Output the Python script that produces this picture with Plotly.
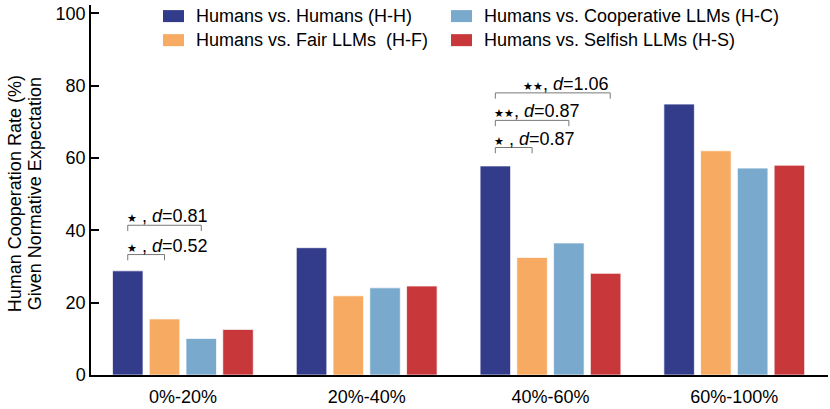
import plotly.graph_objects as go

categories = ['0%-20%', '20%-40%', '40%-60%', '60%-100%']
series_names = ['Humans vs. Humans (H-H)', 'Humans vs. Fair LLMs  (H-F)',
                'Humans vs. Cooperative LLMs (H-C)', 'Humans vs. Selfish LLMs (H-S)']
colors = ['#333b8b', '#f6aa62', '#79a9cc', '#c8373a']

hh = [28.8, 35.2, 57.8, 74.9]
hf = [15.5, 21.9, 32.5, 62.0]
hc = [10.1, 24.1, 36.5, 57.2]
hs = [12.6, 24.6, 28.1, 58.0]
values = [hh, hf, hc, hs]

# significance brackets: (group, compared series, stars, effect size, bracket height)
sig = [
    (0, 1, 1, '0.52', 33.3),
    (0, 2, 1, '0.81', 41.4),
    (2, 1, 1, '0.87', 62.9),
    (2, 2, 2, '0.87', 70.4),
    (2, 3, 2, '1.06', 78.0),
]

font = 'Liberation Sans, Arial, sans-serif'
fig = go.Figure()
for name, vals, c in zip(series_names, values, colors):
    fig.add_trace(go.Bar(x=categories, y=vals, name=name, marker_color=c,
                         marker_line=dict(color='rgba(255,255,255,0.7)', width=1),
                         showlegend=False))

offs = [-0.3, -0.1, 0.1, 0.3]
shapes = []
annotations = []
star = '<span style="font-size:11px">★</span>'
for g, s, n, d, h in sig:
    x0 = g + offs[0]
    x1 = g + offs[s] + (0.025 if s == 3 else 0)
    shapes.append(dict(type='path', xref='x', yref='y',
                       path=f'M {x0},{h-1.6} L {x0},{h} L {x1},{h} L {x1},{h-1.6}',
                       line=dict(color='#777777', width=1)))
    label = star * n + (' , ' if n == 1 else ', ') + '<i>d</i>=' + d
    annotations.append(dict(x=x0 if s < 3 else x1, y=h, xref='x', yref='y',
                            xanchor='left' if s < 3 else 'right', yanchor='bottom',
                            text=label, showarrow=False, xshift=-3 if s < 3 else 1, yshift=-3,
                            font=dict(size=18, color='black')))

# manual legend
leg_pos = [(0.0977, 0.970), (0.0977, 0.905), (0.4885, 0.970), (0.4885, 0.905)]
for (lx, ly), name, c in zip(leg_pos, series_names, colors):
    shapes.append(dict(type='rect', xref='paper', yref='paper', xsizemode='pixel',
                       ysizemode='pixel', xanchor=lx, yanchor=ly,
                       x0=0, x1=21, y0=-6, y1=6, fillcolor=c, line=dict(width=0)))
    annotations.append(dict(x=lx, y=ly, xref='paper', yref='paper', xanchor='left',
                            yanchor='middle', xshift=31, text=name, showarrow=False,
                            font=dict(size=18, color='black')))

# y-axis title, two lines
for txt, xp in [('Human Cooperation Rate (%)', -0.1038), ('Given Normative Expectation', -0.0767)]:
    annotations.append(dict(x=xp, y=0.49, xref='paper', yref='paper', textangle=-90,
                            xanchor='center', yanchor='middle', showarrow=False,
                            text=txt, font=dict(size=18, color='black')))

fig.update_layout(
    width=830, height=409,
    margin=dict(l=91, r=2, t=5, b=34),
    plot_bgcolor='white', paper_bgcolor='white',
    font=dict(family=font, color='black'),
    barmode='group', bargap=0.2, bargroupgap=0.17,
    shapes=shapes, annotations=annotations,
)
fig.update_xaxes(range=[-0.5, 3.51], showline=True, linecolor='black', linewidth=1.5,
                 ticks='', showgrid=False, tickfont=dict(size=18), zeroline=False,
                 ticklabelstandoff=5)
fig.update_yaxes(range=[0, 102.3], showline=True, linecolor='black', linewidth=1.5,
                 ticks='inside', ticklen=8, tickwidth=1.5, tickcolor='black',
                 tickvals=[0, 20, 40, 60, 80, 100], showgrid=False, zeroline=False,
                 tickfont=dict(size=18))

fig.write_html('out.html', config={'displayModeBar': False},
               post_script="document.body.style.margin='0';")
